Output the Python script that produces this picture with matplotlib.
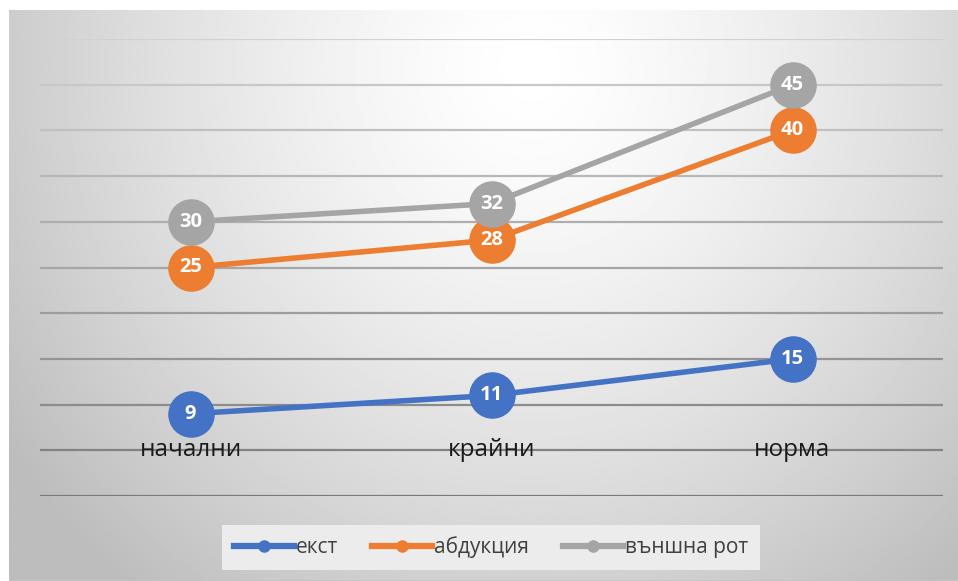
import matplotlib
matplotlib.use("Agg")
import matplotlib.pyplot as plt
from matplotlib.lines import Line2D
import numpy as np

# categories and series values
categories = ["начални", "крайни", "норма"]
series_names = ["екст", "абдукция", "външна рот"]
ext_vals = [9, 11, 15]
abd_vals = [25, 28, 40]
rot_vals = [30, 32, 45]
series_vals = [ext_vals, abd_vals, rot_vals]
colors = ["#4472C4", "#ED7D31", "#A5A5A5"]

W, H = 958, 581
fig = plt.figure(figsize=(W / 100, H / 100), dpi=100)
fig.patch.set_facecolor("white")

# radial gray background of the chart frame
bg = fig.add_axes([9 / W, 0, (W - 9) / W, (H - 10) / H], zorder=0)
yy, xx = np.mgrid[0:1:300j, 0:1:500j]
d = np.sqrt(((xx - 0.55) / 0.65) ** 2 + ((yy - 0.10) / 1.15) ** 2)
shade = np.clip(1.0 - 0.25 * d ** 1.4, 0.74, 1.0)
bg.imshow(shade, cmap="gray", vmin=0, vmax=1, aspect="auto",
          extent=[0, 1, 1, 0], interpolation="bilinear")
bg.axhline(1.0, color="#c4c4c4", lw=2)
bg.set_xlim(0, 1)
bg.set_ylim(1, 0)
bg.axis("off")

ax = fig.add_axes([40 / W, 85 / H, 903 / W, 457 / H], zorder=1)
ax.patch.set_alpha(0)
ax.set_xlim(-0.5, 2.5)
ax.set_ylim(0, 50)

# gridlines, lighter toward the top
levels = np.arange(0, 55, 5)
for lv in levels:
    g = 0.48 + 0.34 * lv / 50
    ax.axhline(lv, color=(g, g, g), lw=1.6, zorder=1)

x = np.arange(len(categories))
for vals, col in zip(series_vals, colors):
    ax.plot(x, vals, color=col, lw=4, marker="o", ms=32.5,
            solid_capstyle="round", zorder=3)
    for xi, v in zip(x, vals):
        ax.text(xi, v, str(v), color="white", fontsize=14.5, fontweight="bold",
                family="Open Sans", ha="center", va="center", zorder=4)

# category labels sit on the value-5 gridline
for xi, cat in zip(x, categories):
    ax.text(xi, 5, cat, fontsize=17.5, family="Open Sans", color="#1a1a1a",
            ha="center", va="center", zorder=2)

for s in ax.spines.values():
    s.set_visible(False)
ax.set_xticks([])
ax.set_yticks([])

handles = [Line2D([], [], color=c, lw=4.5, marker="o", ms=8) for c in colors]
leg = fig.legend(handles, series_names, loc="center", ncol=3,
                 bbox_to_anchor=(491 / W, 33.5 / H), frameon=True,
                 fancybox=False, handlelength=2.9, handletextpad=0.1,
                 columnspacing=1.6, borderpad=0.55,
                 prop={"family": "Open Sans", "size": 15})
leg.get_frame().set_facecolor("#ececec")
leg.get_frame().set_edgecolor("none")
leg.get_frame().set_alpha(1)
for t in leg.get_texts():
    t.set_color("#404040")

fig.savefig("out.png", dpi=100)
